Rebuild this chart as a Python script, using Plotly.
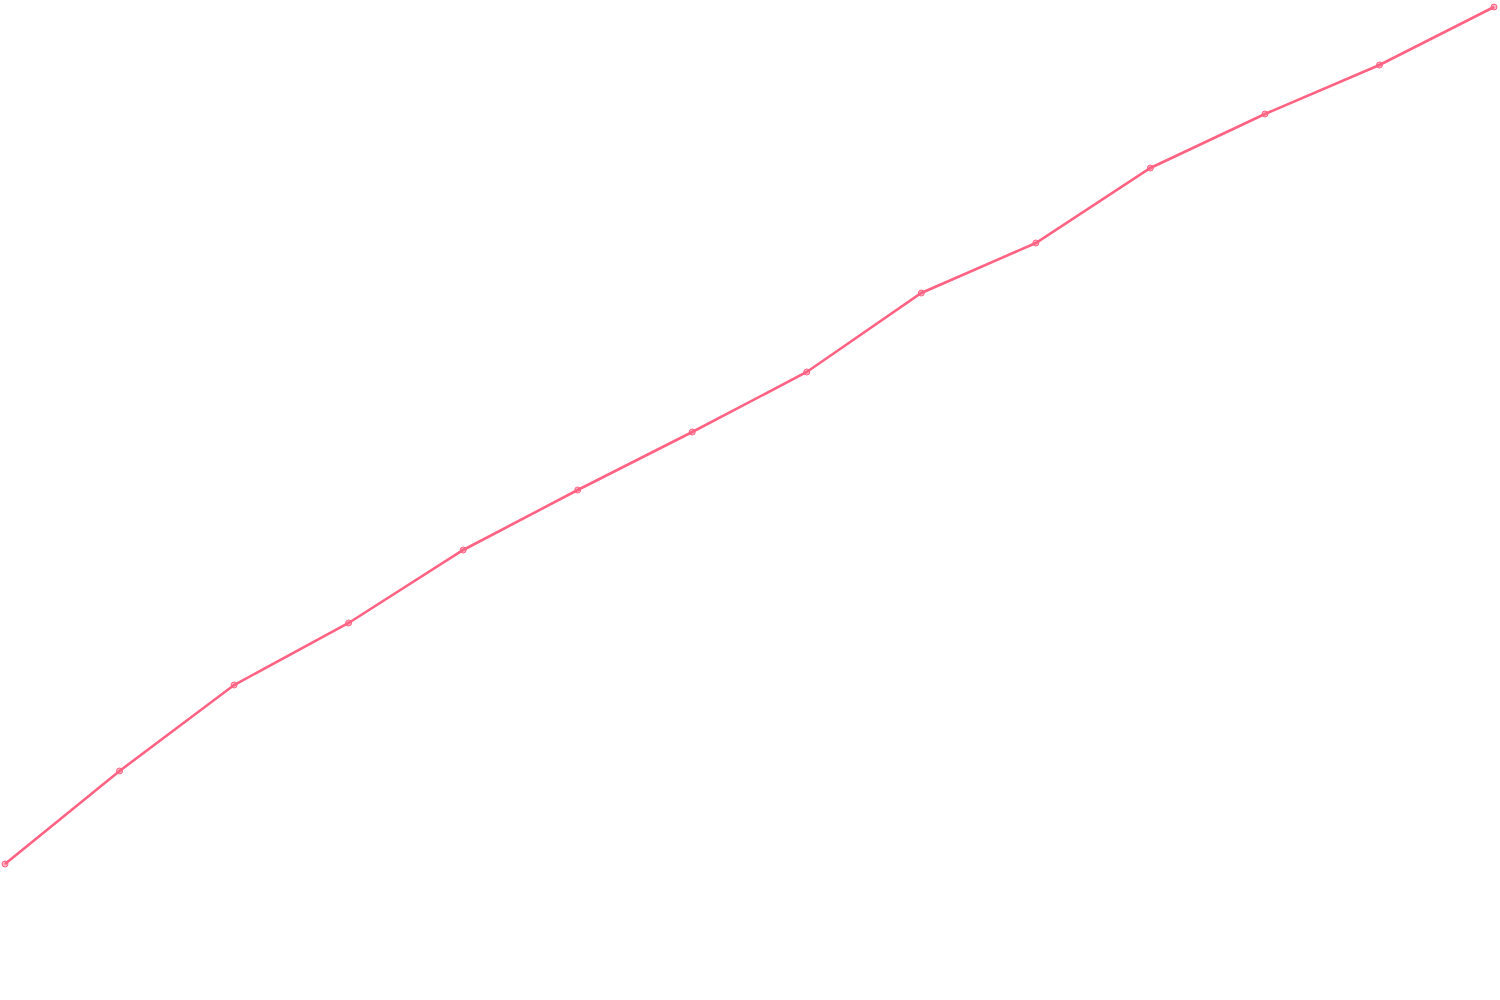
import plotly.graph_objects as go

categories = list(range(1, 15))
values = [136, 229, 315, 377, 450, 510, 568, 628, 707, 757, 832, 886, 935, 993]

fig = go.Figure()
fig.add_trace(go.Scatter(
    x=categories, y=values, mode="lines+markers",
    line=dict(color="rgb(255,99,132)", width=2.6),
    marker=dict(size=6, color="rgba(255,99,132,0.5)",
                line=dict(color="rgb(255,99,132)", width=1)),
    cliponaxis=False, hoverinfo="skip",
))
fig.update_layout(
    width=1500, height=1000,
    margin=dict(l=0, r=0, t=0, b=0),
    paper_bgcolor="white", plot_bgcolor="white",
    showlegend=False,
    xaxis=dict(visible=False, range=[1 - 0.04365, 1 + 13.0523]),
    yaxis=dict(visible=False, range=[0, 1000]),
)
fig.write_html("out.html",
               config={"displayModeBar": False, "staticPlot": True},
               post_script="document.body.style.margin='0';document.body.style.overflow='hidden';")
